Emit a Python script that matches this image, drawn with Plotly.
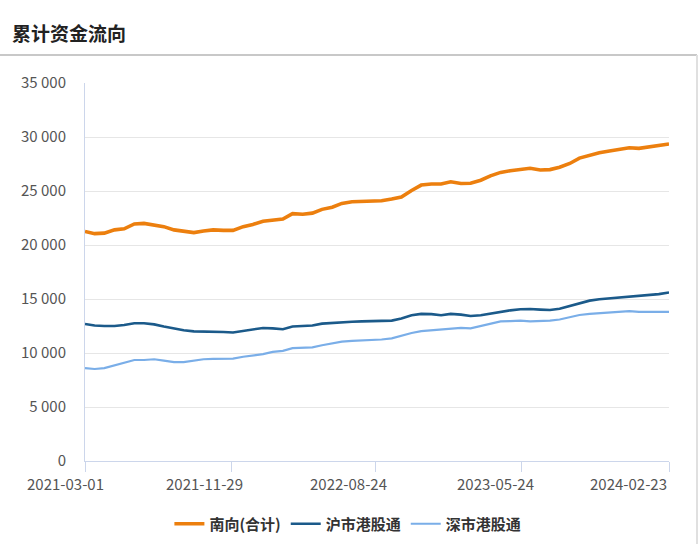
import pandas as pd
import plotly.graph_objects as go

# ---- data ----
dates = pd.date_range("2021-03-01", "2024-02-23", periods=60).strftime("%Y-%m-%d").tolist()

south_total = [21.25, 21.05, 21.1, 21.4, 21.5, 21.95, 22.0, 21.85, 21.7, 21.4,
               21.3, 21.15, 21.3, 21.4, 21.35, 21.35, 21.7, 21.9, 22.2, 22.3,
               22.4, 22.9, 22.85, 22.95, 23.3, 23.5, 23.85, 24.0, 24.05, 24.07,
               24.1, 24.25, 24.45, 25.05, 25.55, 25.65, 25.65, 25.85, 25.7, 25.72,
               26.0, 26.4, 26.72, 26.88, 27.0, 27.1, 26.95, 26.98, 27.2, 27.55,
               28.05, 28.35, 28.55, 28.7, 28.85, 29.0, 28.95, 29.1, 29.2, 29.35]

sh_connect = [12.68, 12.55, 12.5, 12.5, 12.6, 12.75, 12.75, 12.65, 12.45, 12.25,
              12.1, 12.0, 12.0, 12.0, 11.95, 11.9, 12.05, 12.22, 12.32, 12.28,
              12.2, 12.45, 12.5, 12.55, 12.72, 12.8, 12.85, 12.9, 12.93, 12.95,
              12.95, 13.0, 13.2, 13.5, 13.62, 13.6, 13.5, 13.62, 13.55, 13.42,
              13.5, 13.65, 13.82, 13.95, 14.05, 14.08, 14.02, 13.98, 14.1, 14.35,
              14.65, 14.85, 14.97, 15.05, 15.18, 15.2, 15.3, 15.37, 15.45, 15.6]

sz_connect = [8.6, 8.52, 8.6, 8.85, 9.08, 9.35, 9.35, 9.42, 9.3, 9.15,
              9.15, 9.28, 9.42, 9.45, 9.45, 9.48, 9.65, 9.78, 9.9, 10.1,
              10.2, 10.45, 10.5, 10.52, 10.72, 10.88, 11.05, 11.12, 11.15, 11.2,
              11.25, 11.35, 11.6, 11.85, 12.02, 12.1, 12.2, 12.3, 12.33, 12.28,
              12.5, 12.72, 12.92, 12.95, 13.0, 12.92, 12.95, 13.0, 13.1, 13.3,
              13.52, 13.62, 13.68, 13.77, 13.8, 13.87, 13.8, 13.8, 13.75, 13.8]

series_names = ["南向(合计)", "沪市港股通", "深市港股通"]
x_tick_labels = ["2021-03-01", "2021-11-29", "2022-08-24", "2023-05-24", "2024-02-23"]
title_text = "累计资金流向"

# ---- figure ----
FONT = "Noto Sans CJK SC, Noto Sans, sans-serif"
colors = ["#EC7F0E", "#1B5A8A", "#7AAEE8"]
widths = [3.6, 2.6, 2.2]
values = [south_total, sh_connect, sz_connect]

fig = go.Figure()
for name, vals, c, w in zip(series_names, values, colors, widths):
    fig.add_trace(go.Scatter(
        x=dates, y=[v * 1000 for v in vals], name=name, mode="lines",
        line=dict(color=c, width=w), hoverinfo="skip"))

fig.update_layout(
    width=700, height=544,
    margin=dict(l=85, r=31, t=83, b=83),
    paper_bgcolor="white", plot_bgcolor="white",
    separators=". ",
    font=dict(family=FONT, color="#333333", size=13),
    title=dict(text=title_text, x=0.017, xanchor="left", xref="container",
               y=1 - 34 / 544, yanchor="middle", yref="container",
               font=dict(family=FONT, size=19, color="#222222", weight="bold")),
    showlegend=True,
    legend=dict(orientation="h", xref="container", yref="container",
                x=0.497, xanchor="center", y=1 - 524 / 544, yanchor="middle",
                font=dict(family=FONT, size=15, color="#333333", weight="bold"),
                itemwidth=30, bgcolor="rgba(0,0,0,0)"),
)

fig.update_xaxes(
    type="date", range=[x_tick_labels[0], x_tick_labels[-1]],
    tickvals=x_tick_labels, showticklabels=False,
    ticks="outside", ticklen=10, tickcolor="#ccd6eb", tickwidth=1,
    showline=True, linecolor="#ccd6eb", linewidth=1,
    showgrid=False, zeroline=False)

fig.update_yaxes(
    range=[0, 35000], dtick=5000, tickformat=",d",
    showgrid=True, gridcolor="#e6e6e6", gridwidth=1,
    showline=True, linecolor="#ccd6eb", linewidth=1,
    zeroline=False, ticks="", ticklabelstandoff=15,
    tickfont=dict(family=FONT, size=15, color="#555555"))

# x tick labels as text (offset as in reference)
shifts = [-20, -27, -27, -26, 0]
for i, lab in enumerate(x_tick_labels):
    last = i == len(x_tick_labels) - 1
    fig.add_annotation(
        x=lab, xref="x", y=0, yref="paper", text=lab, showarrow=False,
        xanchor="right" if last else "center", yanchor="middle",
        xshift=shifts[i], yshift=-22,
        font=dict(family=FONT, size=15, color="#555555"))

# panel decorations: title separator and right border
fig.add_shape(type="line", xref="paper", yref="paper",
              x0=-85 / 584, x1=612 / 584, y0=1 + 28 / 378, y1=1 + 28 / 378,
              line=dict(color="#c8c8c8", width=2))
fig.add_shape(type="line", xref="paper", yref="paper",
              x0=612 / 584, x1=612 / 584, y0=1 + 28 / 378, y1=-83 / 378,
              line=dict(color="#e0e0e0", width=2))

fig.write_html("out.html")
